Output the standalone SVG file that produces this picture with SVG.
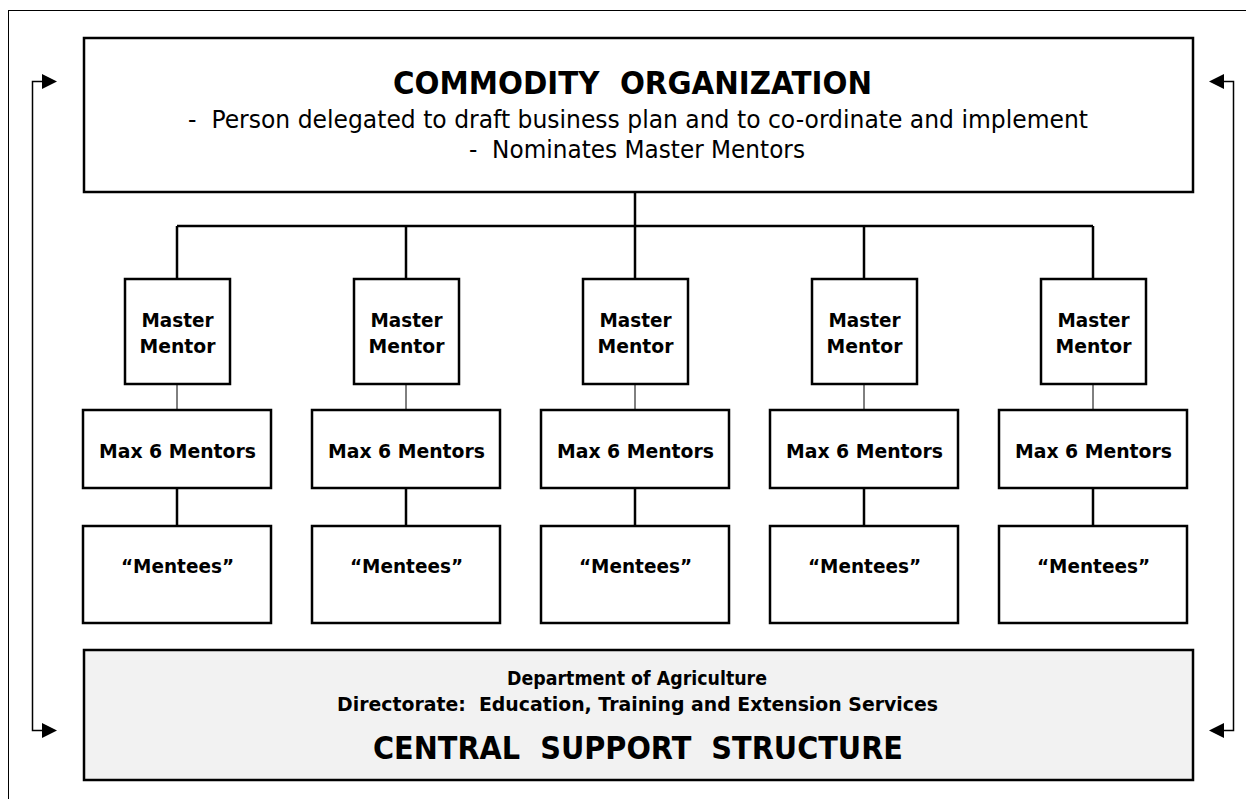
<svg xmlns="http://www.w3.org/2000/svg" width="1246" height="799" viewBox="0 0 1246 799">
<style>
text{font-family:"DejaVu Sans","Liberation Sans",sans-serif;fill:#000;white-space:pre}
.b{font-weight:bold}
.box{fill:#fff;stroke:#000;stroke-width:2.5}
.grey{fill:#f2f2f2;stroke:#000;stroke-width:2.5}
.ln{stroke:#000;stroke-width:2.5;fill:none}
.thin{stroke:#000;stroke-width:1;fill:none}
.arr{stroke:#000;stroke-width:1.5;fill:none}
.s{font-size:20px}
</style>
<rect x="8.5" y="10.5" width="1260" height="800" fill="#fff" stroke="#000" stroke-width="1"/>

<g id="connectors">
<path class="ln" d="M635 193V226M177 226H1093M177 226V279M406 226V279M635 226V279M864 226V279M1093 226V279"/>
<path class="thin" d="M177 384V410M406 384V410M635 384V410M864 384V410M1093 384V410"/>
<path class="ln" d="M177 488V526M406 488V526M635 488V526M864 488V526M1093 488V526"/>
<path class="arr" d="M43 81.5H32.5V730.5H43"/>
<polygon points="42,74 57,81.5 42,89"/>
<polygon points="42,723 57,730.5 42,738"/>
<path class="arr" d="M1223 81.5H1233.5V730.5H1223"/>
<polygon points="1224,74 1209,81.5 1224,89"/>
<polygon points="1224,723 1209,730.5 1224,738"/>
</g>

<g id="commodity">
<rect class="box" x="84" y="38" width="1109" height="154"/>
<text class="b" x="632.5" y="94" font-size="32" text-anchor="middle" textLength="479" lengthAdjust="spacingAndGlyphs">COMMODITY  ORGANIZATION</text>
<text x="638" y="128" font-size="25" text-anchor="middle" textLength="900" lengthAdjust="spacingAndGlyphs">-  Person delegated to draft business plan and to co-ordinate and implement</text>
<text x="637" y="158" font-size="25" text-anchor="middle" textLength="336" lengthAdjust="spacingAndGlyphs">-  Nominates Master Mentors</text>
</g>

<g id="mm1"><rect class="box" x="125" y="279" width="105" height="105"/>
<text class="b s" x="177.5" y="327" text-anchor="middle" textLength="72" lengthAdjust="spacingAndGlyphs">Master</text>
<text class="b s" x="177.5" y="353" text-anchor="middle" textLength="76" lengthAdjust="spacingAndGlyphs">Mentor</text></g>
<g id="mm2"><rect class="box" x="354" y="279" width="105" height="105"/>
<text class="b s" x="406.5" y="327" text-anchor="middle" textLength="72" lengthAdjust="spacingAndGlyphs">Master</text>
<text class="b s" x="406.5" y="353" text-anchor="middle" textLength="76" lengthAdjust="spacingAndGlyphs">Mentor</text></g>
<g id="mm3"><rect class="box" x="583" y="279" width="105" height="105"/>
<text class="b s" x="635.5" y="327" text-anchor="middle" textLength="72" lengthAdjust="spacingAndGlyphs">Master</text>
<text class="b s" x="635.5" y="353" text-anchor="middle" textLength="76" lengthAdjust="spacingAndGlyphs">Mentor</text></g>
<g id="mm4"><rect class="box" x="812" y="279" width="105" height="105"/>
<text class="b s" x="864.5" y="327" text-anchor="middle" textLength="72" lengthAdjust="spacingAndGlyphs">Master</text>
<text class="b s" x="864.5" y="353" text-anchor="middle" textLength="76" lengthAdjust="spacingAndGlyphs">Mentor</text></g>
<g id="mm5"><rect class="box" x="1041" y="279" width="105" height="105"/>
<text class="b s" x="1093.5" y="327" text-anchor="middle" textLength="72" lengthAdjust="spacingAndGlyphs">Master</text>
<text class="b s" x="1093.5" y="353" text-anchor="middle" textLength="76" lengthAdjust="spacingAndGlyphs">Mentor</text></g>

<g id="mx1"><rect class="box" x="83" y="410" width="188" height="78"/>
<text class="b s" x="177.5" y="458" text-anchor="middle" textLength="157" lengthAdjust="spacingAndGlyphs">Max 6 Mentors</text></g>
<g id="mx2"><rect class="box" x="312" y="410" width="188" height="78"/>
<text class="b s" x="406.5" y="458" text-anchor="middle" textLength="157" lengthAdjust="spacingAndGlyphs">Max 6 Mentors</text></g>
<g id="mx3"><rect class="box" x="541" y="410" width="188" height="78"/>
<text class="b s" x="635.5" y="458" text-anchor="middle" textLength="157" lengthAdjust="spacingAndGlyphs">Max 6 Mentors</text></g>
<g id="mx4"><rect class="box" x="770" y="410" width="188" height="78"/>
<text class="b s" x="864.5" y="458" text-anchor="middle" textLength="157" lengthAdjust="spacingAndGlyphs">Max 6 Mentors</text></g>
<g id="mx5"><rect class="box" x="999" y="410" width="188" height="78"/>
<text class="b s" x="1093.5" y="458" text-anchor="middle" textLength="157" lengthAdjust="spacingAndGlyphs">Max 6 Mentors</text></g>

<g id="me1"><rect class="box" x="83" y="526" width="188" height="97"/>
<text class="b s" x="177.5" y="573" text-anchor="middle" textLength="113" lengthAdjust="spacingAndGlyphs">“Mentees”</text></g>
<g id="me2"><rect class="box" x="312" y="526" width="188" height="97"/>
<text class="b s" x="406.5" y="573" text-anchor="middle" textLength="113" lengthAdjust="spacingAndGlyphs">“Mentees”</text></g>
<g id="me3"><rect class="box" x="541" y="526" width="188" height="97"/>
<text class="b s" x="635.5" y="573" text-anchor="middle" textLength="113" lengthAdjust="spacingAndGlyphs">“Mentees”</text></g>
<g id="me4"><rect class="box" x="770" y="526" width="188" height="97"/>
<text class="b s" x="864.5" y="573" text-anchor="middle" textLength="113" lengthAdjust="spacingAndGlyphs">“Mentees”</text></g>
<g id="me5"><rect class="box" x="999" y="526" width="188" height="97"/>
<text class="b s" x="1093.5" y="573" text-anchor="middle" textLength="113" lengthAdjust="spacingAndGlyphs">“Mentees”</text></g>

<g id="central">
<rect class="grey" x="84" y="650" width="1109" height="130"/>
<text class="b s" x="637" y="685" text-anchor="middle" textLength="260" lengthAdjust="spacingAndGlyphs">Department of Agriculture</text>
<text class="b s" x="637.5" y="711" text-anchor="middle" textLength="601" lengthAdjust="spacingAndGlyphs">Directorate:  Education, Training and Extension Services</text>
<text class="b" x="638" y="759" font-size="32" text-anchor="middle" textLength="530" lengthAdjust="spacingAndGlyphs">CENTRAL  SUPPORT  STRUCTURE</text>
</g>
</svg>
